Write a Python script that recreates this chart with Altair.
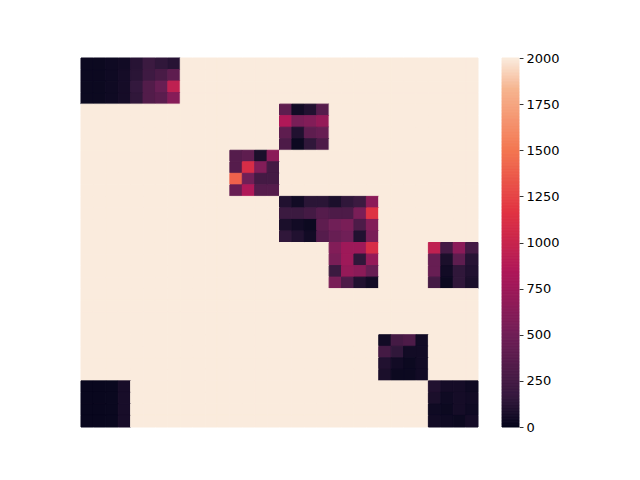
import altair as alt
import pandas as pd

N = 32
FILL = 2000

# block values: (row0, col0, values)
block_a = [
    [30, 30, 40, 50, 120, 200, 150, 120],
    [30, 30, 40, 60, 130, 220, 280, 400],
    [30, 30, 40, 60, 160, 330, 450, 950],
    [30, 30, 40, 60, 150, 330, 380, 620],
]
block_b = [
    [400, 50, 100, 350],
    [850, 550, 600, 700],
    [400, 100, 400, 450],
    [300, 30, 150, 300],
]
block_c = [
    [350, 400, 80, 650],
    [350, 1100, 600, 250],
    [1400, 500, 250, 250],
    [450, 850, 350, 350],
]
block_d = [
    [100, 50, 130, 130, 80, 150, 200, 650],
    [200, 200, 250, 350, 300, 300, 550, 1150],
    [80, 50, 30, 400, 500, 550, 300, 600],
    [150, 100, 50, 350, 450, 500, 100, 550],
]
block_e = [
    [600, 750, 750, 1100],
    [550, 750, 150, 700],
    [200, 700, 650, 450],
    [550, 300, 100, 50],
]
block_f = [
    [950, 250, 650, 250],
    [450, 80, 400, 120],
    [450, 50, 150, 100],
    [250, 30, 150, 80],
]
block_g = [
    [50, 250, 300, 50],
    [250, 150, 50, 50],
    [100, 50, 30, 50],
    [80, 30, 30, 50],
]
block_h = [
    [100, 60, 60, 40],
    [80, 40, 60, 50],
    [40, 30, 60, 40],
    [50, 40, 30, 60],
]
block_i = [
    [20, 20, 25, 70],
    [20, 20, 25, 70],
    [20, 20, 25, 70],
    [20, 20, 25, 70],
]

blocks = [
    (0, 0, block_a),
    (4, 16, block_b),
    (8, 12, block_c),
    (12, 16, block_d),
    (16, 20, block_e),
    (16, 28, block_f),
    (24, 24, block_g),
    (28, 28, block_h),
    (28, 0, block_i),
]

mat = [[FILL] * N for _ in range(N)]
for r0, c0, vals in blocks:
    for i, row in enumerate(vals):
        for j, v in enumerate(row):
            mat[r0 + i][c0 + j] = v

records = [{"row": r, "col": c, "value": mat[r][c]} for r in range(N) for c in range(N)]
df = pd.DataFrame(records)

stops = [0, 166.7, 500, 833.3, 1166.7, 1500, 1833.3, 2000]
colors = ["#03051a", "#35193e", "#701f57", "#ad1759", "#e13342", "#f37651", "#f6b48f", "#faebdd"]
ticks = [0, 250, 500, 750, 1000, 1250, 1500, 1750, 2000]
cb_step = 8
cb_levels = list(range(0, 2000, cb_step))

color_scale = alt.Scale(domain=stops, range=colors, interpolate="rgb", clamp=True)

heat = alt.Chart(df).mark_rect(strokeWidth=1).encode(
    x=alt.X("col:O", axis=None, scale=alt.Scale(paddingInner=0, paddingOuter=0)),
    y=alt.Y("row:O", axis=None, scale=alt.Scale(paddingInner=0, paddingOuter=0)),
    color=alt.Color("value:Q", scale=color_scale, legend=None),
    stroke=alt.Color("value:Q", scale=color_scale, legend=None),
).properties(width=397, height=369)

cb_df = pd.DataFrame({"lo": cb_levels})
colorbar = alt.Chart(cb_df).transform_calculate(
    hi=f"datum.lo + {cb_step}", mid=f"datum.lo + {cb_step / 2}"
).mark_rect(strokeWidth=1).encode(
    x=alt.value(0),
    x2=alt.value(17),
    y=alt.Y(
        "lo:Q",
        scale=alt.Scale(domain=[0, 2000], nice=False, zero=False),
        axis=alt.Axis(
            orient="right",
            values=ticks,
            format="d",
            title=None,
            domain=False,
            grid=False,
            tickSize=4,
            tickColor="#000000",
            tickWidth=0.8,
            labelFontSize=13,
            labelFont="DejaVu Sans",
            labelColor="#000000",
            labelPadding=3,
            labelBaseline="middle",
            labelFlush=False,
            labelOverlap=False,
            offset=0,
        ),
    ),
    y2="hi:Q",
    color=alt.Color("mid:Q", scale=color_scale, legend=None),
    stroke=alt.Color("mid:Q", scale=color_scale, legend=None),
).properties(width=17, height=369)

chart = alt.hconcat(heat, colorbar, spacing=22).properties(
    padding={"left": 72, "top": 44, "right": 5, "bottom": 5},
).configure_view(stroke=None)

chart.save("out.html", embed_options={"renderer": "svg", "actions": False})
